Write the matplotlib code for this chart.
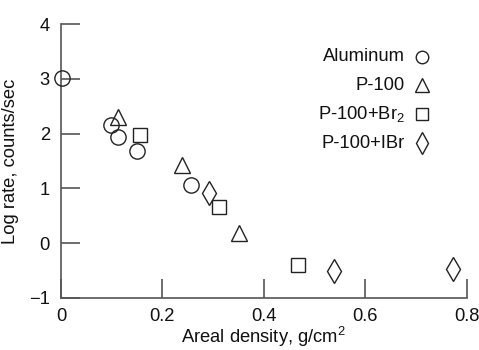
import matplotlib
matplotlib.use("Agg")
import matplotlib.pyplot as plt

plt.rcParams['font.family'] = ['Liberation Sans', 'DejaVu Sans']
plt.rcParams['mathtext.default'] = 'regular'

al_x = [0.003, 0.099, 0.113, 0.149, 0.256]
al_y = [3.02, 2.16, 1.93, 1.68, 1.06]
p100_x = [0.113, 0.239, 0.351]
p100_y = [2.30, 1.43, 0.19]
br_x = [0.156, 0.312, 0.468]
br_y = [1.97, 0.66, -0.39]
ibr_x = [0.291, 0.538, 0.773]
ibr_y = [0.92, -0.50, -0.47]

series = [
    ("Aluminum", al_x, al_y, 'o', 11),
    ("P-100", p100_x, p100_y, '^', 11),
    ("P-100+Br$_2$", br_x, br_y, 's', 9.5),
    ("P-100+IBr", ibr_x, ibr_y, 'd', 12),
]
legend_ms = {'o': 9, '^': 10, 's': 9, 'd': 11}

FS = 13.2
fig = plt.figure(figsize=(4.79, 3.5), dpi=100)
ax = fig.add_axes([0.1273, 0.1486, 0.8467, 0.7828])
ax.set_xlim(0, 0.8)
ax.set_ylim(-1, 4)

for label, xs, ys, m, ms in series:
    ax.plot(xs, ys, linestyle='none', marker=m, markersize=ms,
            markerfacecolor='none', markeredgecolor='#222222',
            markeredgewidth=1.0, clip_on=False, zorder=3)

ax.spines['top'].set_visible(False)
ax.spines['right'].set_visible(False)
for s in ('left', 'bottom'):
    ax.spines[s].set_color('#555555')
    ax.spines[s].set_linewidth(1.2)
ax.set_xticks([0, 0.2, 0.4, 0.6, 0.8])
ax.set_xticklabels(['0', '0.2', '0.4', '0.6', '0.8'])
ax.set_yticks([-1, 0, 1, 2, 3, 4])
ax.tick_params(direction='in', length=14, width=1.2, color='#555555',
               labelsize=FS, labelcolor='#111111')
ax.tick_params(axis='x', pad=7)
ax.tick_params(axis='y', pad=8)
ax.set_xlabel('Areal density, g/cm$^2$', fontsize=FS, labelpad=0,
              color='#111111')
ax.set_ylabel('Log rate, counts/sec', fontsize=FS, labelpad=7,
              color='#111111')

rows = [0.881, 0.777, 0.670, 0.565]
for (label, xs, ys, m, ms), yy in zip(series, rows):
    ax.text(0.848, yy, label, transform=ax.transAxes, ha='right',
            va='center', fontsize=FS, color='#111111')
    ax.plot([0.891], [yy], transform=ax.transAxes, marker=m,
            markersize=legend_ms[m], markerfacecolor='none',
            markeredgecolor='#222222', markeredgewidth=1.0,
            linestyle='none', clip_on=False)

fig.savefig('out.png', dpi=100)
